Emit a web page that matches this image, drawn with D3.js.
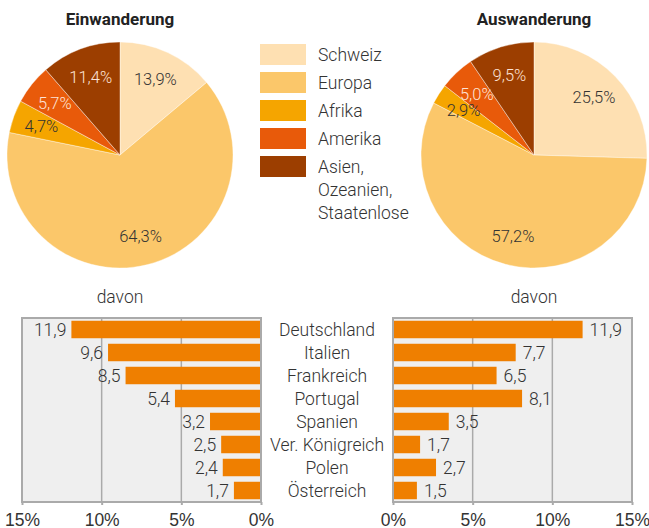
<!DOCTYPE html>
<html>
<head>
<meta charset="utf-8">
<title>Ein- und Auswanderung</title>
<script src="https://cdnjs.cloudflare.com/ajax/libs/d3/7.8.5/d3.min.js"></script>
<style>
  html, body { margin: 0; padding: 0; background: #fff; }
  svg { display: block; font-family: Roboto, "Noto Sans", sans-serif; font-weight: 300; }
</style>
</head>
<body>
<svg id="chart" width="649" height="528"></svg>
<script>
// --- data ---
var regions = ["Schweiz", "Europa", "Afrika", "Amerika", "Asien, Ozeanien, Staatenlose"];
var regionColors = ["#fee0b2", "#fbc76a", "#f5a500", "#e85a0a", "#9c3e00"];
var immigration = [13.9, 64.3, 4.7, 5.7, 11.4];
var emigration = [25.5, 57.2, 2.9, 5.0, 9.5];

var countries = ["Deutschland", "Italien", "Frankreich", "Portugal", "Spanien", "Ver. Königreich", "Polen", "Österreich"];
var immigrationByCountry = [11.9, 9.6, 8.5, 5.4, 3.2, 2.5, 2.4, 1.7];
var emigrationByCountry = [11.9, 7.7, 6.5, 8.1, 3.5, 1.7, 2.7, 1.5];
var ticks = [0, 5, 10, 15];

var svg = d3.select("#chart");
var fmt = function (v) { return d3.format(".1f")(v).replace(".", ","); };
var color = d3.scaleOrdinal().domain(regions).range(regionColors);
var fs = 17.5;   // base font size

// --- pies ---
function drawPie(cx, cy, r, title, values) {
  var g = svg.append("g").attr("transform", "translate(" + cx + "," + cy + ")");
  var pie = d3.pie().sort(null).value(function (d) { return d.v; });
  var arcs = pie(values.map(function (v, i) { return { v: v, k: regions[i], i: i }; }));
  var arc = d3.arc().innerRadius(0).outerRadius(r);
  var labelArc = d3.arc().innerRadius(r * 0.74).outerRadius(r * 0.74);

  g.selectAll("path").data(arcs).enter().append("path")
    .attr("d", arc)
    .attr("fill", function (d) { return color(d.data.k); })
    .attr("stroke", "#fff").attr("stroke-width", 0.4);

  g.selectAll("text.lbl").data(arcs).enter().append("text")
    .attr("class", "lbl")
    .attr("x", function (d) { return labelArc.centroid(d)[0]; })
    .attr("y", function (d) { return labelArc.centroid(d)[1]; })
    .attr("dy", "0.36em")
    .attr("text-anchor", "middle")
    .attr("font-size", 16.5)
    .attr("fill", function (d) { return d.data.i >= 3 ? "#fde3d6" : "#333"; })
    .text(function (d) { return fmt(d.data.v) + "%"; });

  svg.append("text")
    .attr("x", cx).attr("y", 25)
    .attr("text-anchor", "middle")
    .attr("font-size", 17).attr("font-weight", "bold").attr("fill", "#222")
    .text(title);

  svg.append("text").attr("x", cx).attr("y", 303)
    .attr("text-anchor", "middle").attr("font-size", fs).attr("fill", "#333")
    .text("davon");
}
drawPie(120, 155, 113, "Einwanderung", immigration);
drawPie(534, 155, 113, "Auswanderung", emigration);

// --- legend ---
var legend = svg.append("g").attr("transform", "translate(260,44)");
var legendLines = [["Schweiz"], ["Europa"], ["Afrika"], ["Amerika"], ["Asien,", "Ozeanien,", "Staatenlose"]];
regions.forEach(function (k, i) {
  var ly = i * 28;
  legend.append("rect").attr("x", 0).attr("y", ly).attr("width", 46).attr("height", 21).attr("fill", color(k));
  var t = legend.append("text").attr("x", 58).attr("y", ly + 16.5).attr("font-size", fs).attr("fill", "#333");
  legendLines[i].forEach(function (line, j) {
    t.append("tspan").attr("x", 58).attr("dy", j === 0 ? 0 : 23).text(line);
  });
});

// --- bars ---
var barTop = 318, barBottom = 502;
var y = d3.scaleBand().domain(countries).range([barTop, barBottom]).paddingInner(0.24).paddingOuter(0.12);

function drawBars(x0, x1, values, mirrored) {
  var x = d3.scaleLinear().domain([0, 15]).range(mirrored ? [x1, x0] : [x0, x1]);
  var g = svg.append("g");
  g.append("rect").attr("x", x0).attr("y", barTop).attr("width", x1 - x0).attr("height", barBottom - barTop)
    .attr("fill", "#efefef");
  g.selectAll("line.grid").data([5, 10]).enter().append("line")
    .attr("x1", x).attr("x2", x).attr("y1", barTop).attr("y2", barBottom)
    .attr("stroke", "#aaa").attr("stroke-width", 1.5);

  g.selectAll("rect.bar").data(values).enter().append("rect")
    .attr("x", function (d) { return mirrored ? x(d) : x(0); })
    .attr("y", function (d, i) { return y(countries[i]); })
    .attr("width", function (d) { return Math.abs(x(d) - x(0)); })
    .attr("height", y.bandwidth())
    .attr("fill", "#ef7f00");

  g.selectAll("text.val").data(values).enter().append("text")
    .attr("x", function (d) { return mirrored ? x(d) - 5 : x(d) + 7; })
    .attr("y", function (d, i) { return y(countries[i]) + y.bandwidth() / 2; })
    .attr("dy", "0.36em")
    .attr("text-anchor", mirrored ? "end" : "start")
    .attr("font-size", fs).attr("fill", "#333")
    .text(fmt);

  g.append("rect").attr("x", x0).attr("y", barTop).attr("width", x1 - x0).attr("height", barBottom - barTop)
    .attr("fill", "none").attr("stroke", "#aaa").attr("stroke-width", 2);

  var axis = d3.axisBottom(x).tickValues(ticks).tickSize(3).tickSizeOuter(0)
    .tickFormat(function (d) { return d + "%"; });
  var ag = g.append("g").attr("transform", "translate(0," + barBottom + ")").call(axis);
  ag.select(".domain").remove();
  ag.selectAll("line").attr("stroke", "#aaa").attr("stroke-width", 2);
  ag.selectAll("text").attr("font-size", fs).attr("fill", "#333")
    .attr("font-family", null).attr("y", 12);
}
drawBars(22, 261, immigrationByCountry, true);
drawBars(393, 632, emigrationByCountry, false);

svg.selectAll("text.country").data(countries).enter().append("text")
  .attr("class", "country")
  .attr("x", 327)
  .attr("y", function (d) { return y(d) + y.bandwidth() / 2; })
  .attr("dy", "0.36em")
  .attr("text-anchor", "middle")
  .attr("font-size", fs).attr("fill", "#333")
  .text(function (d) { return d; });
</script>
</body>
</html>
